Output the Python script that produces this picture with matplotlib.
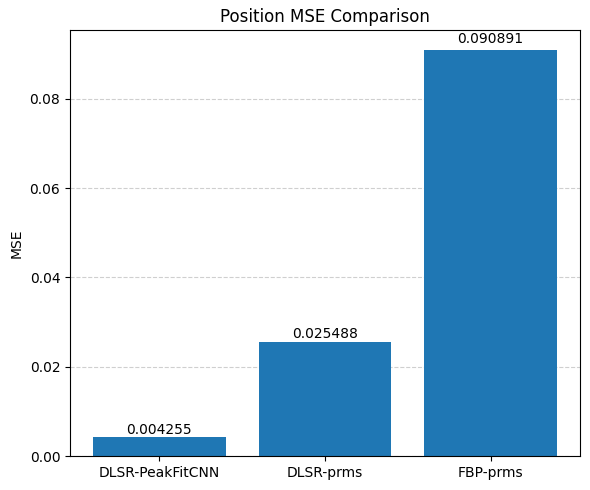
import matplotlib.pyplot as plt

methods = ["DLSR-PeakFitCNN", "DLSR-prms", "FBP-prms"]
mse_values = [0.004255, 0.025488, 0.090891]

fig, ax = plt.subplots(figsize=(5.9, 4.9), dpi=100)
bars = ax.bar(methods, mse_values, color="#1f77b4")
for bar, v in zip(bars, mse_values):
    ax.text(bar.get_x() + bar.get_width() / 2, v * 1.01, f"{v:.6f}",
            ha="center", va="bottom")
ax.set_ylabel("MSE")
ax.set_title("Position MSE Comparison")
ax.grid(axis="y", linestyle="--", alpha=0.6)
ax.set_axisbelow(True)

fig.subplots_adjust(left=70 / 590, right=580 / 590, top=1 - 30 / 490, bottom=1 - 456 / 490)
plt.savefig("out.png", dpi=100)
